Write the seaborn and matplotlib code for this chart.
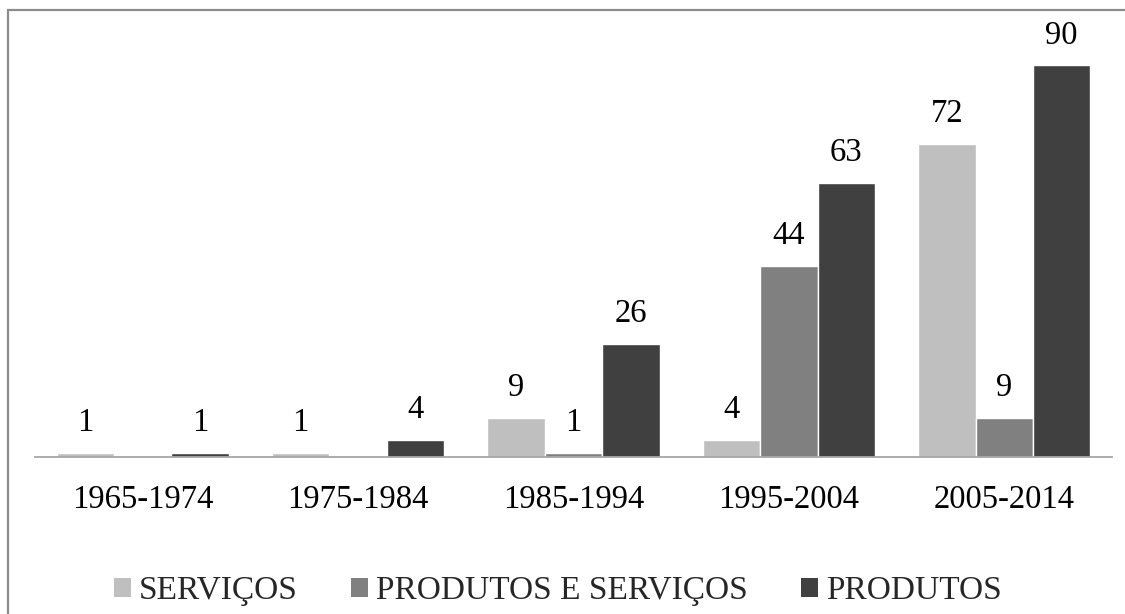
import pandas as pd
import matplotlib
matplotlib.use('Agg')
import matplotlib.pyplot as plt
from matplotlib.patches import Rectangle
import seaborn as sns

# Data
periods = ['1965-1974', '1975-1984', '1985-1994', '1995-2004', '2005-2014']
servicos = [1, 1, 9, 4, 72]
produtos_servicos = [0, 0, 1, 44, 9]
produtos = [1, 4, 26, 63, 90]
series_names = ['SERVIÇOS', 'PRODUTOS E SERVIÇOS', 'PRODUTOS']
colors = ['#bfbfbf', '#808080', '#404040']

df = pd.DataFrame({
    'periodo': periods * 3,
    'valor': servicos + produtos_servicos + produtos,
    'tipo': [series_names[0]] * 5 + [series_names[1]] * 5 + [series_names[2]] * 5,
})

sns.set_style('white')
plt.rcParams['font.family'] = ['Liberation Serif', 'DejaVu Serif']

fig = plt.figure(figsize=(11.25, 6.14), dpi=100)
ax = fig.add_axes([0.0311, 0.2557, 0.9573, 0.7085])

sns.barplot(data=df, x='periodo', y='valor', hue='tipo', order=periods,
            hue_order=series_names, palette=colors, saturation=1, width=0.8,
            ax=ax, legend=False)

ax.set_ylim(0, 100)
ax.set_xlim(-0.5, len(periods) - 0.5)
ax.set_xlabel('')
ax.set_ylabel('')
ax.set_yticks([])
ax.tick_params(axis='x', length=0, pad=20, labelsize=23.5, colors='black')
for side in ['top', 'left', 'right']:
    ax.spines[side].set_visible(False)
ax.spines['bottom'].set_color('#a6a6a6')
ax.spines['bottom'].set_linewidth(1.3)

# value labels (no label for empty bars)
for cont in ax.containers:
    labels = [f'{int(b.get_height())}' if b.get_height() > 0 else '' for b in cont]
    ax.bar_label(cont, labels=labels, padding=10.5, fontsize=23.5, color='black')

handles = [Rectangle((0, 0), 1, 1, facecolor=c, edgecolor='none') for c in colors]
fig.legend(handles, series_names, loc='center', bbox_to_anchor=(0.496, 0.038),
           ncol=3, frameon=False, fontsize=24, handlelength=0.5, handleheight=0.5,
           handletextpad=0.25, columnspacing=1.6, borderpad=0, borderaxespad=0)

# outer border of the chart area
fig.patches.append(Rectangle((8 / 1125, -0.2), 1.2, 1.2 - 10.5 / 614,
                             transform=fig.transFigure, fill=False,
                             edgecolor='#8c8c8c', linewidth=1.6))

fig.savefig('out.png', dpi=100)
